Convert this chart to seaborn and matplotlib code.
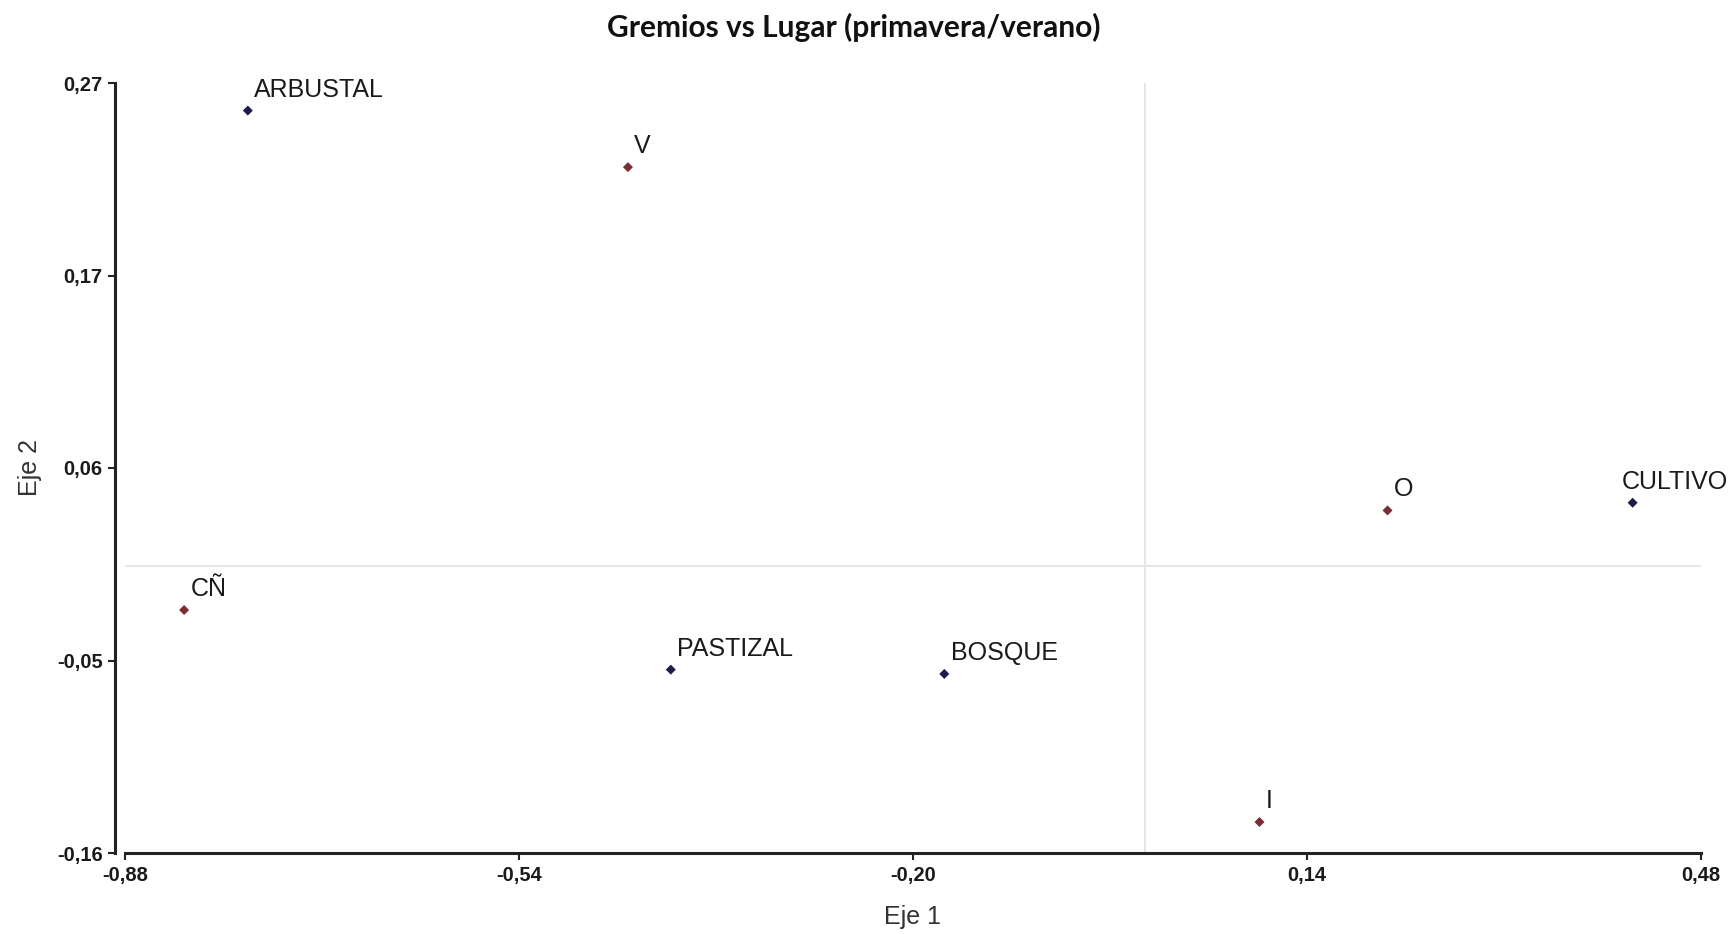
import numpy as np
import pandas as pd
import matplotlib
matplotlib.use("Agg")
import matplotlib.pyplot as plt
import seaborn as sns

# Correspondence analysis coordinates: sites (Lugar) and feeding guilds (Gremios)
lugar_names = ["ARBUSTAL", "PASTIZAL", "BOSQUE", "CULTIVO"]
lugar_eje1 = [-0.774, -0.409, -0.173, 0.421]
lugar_eje2 = [0.2546, -0.0576, -0.0600, 0.0356]

gremio_names = ["V", "CÑ", "I", "O"]
gremio_eje1 = [-0.446, -0.829, 0.099, 0.2095]
gremio_eje2 = [0.223, -0.0243, -0.1427, 0.0313]

x_ticklabels = ["-0,88", "-0,54", "-0,20", "0,14", "0,48"]
y_ticklabels = ["-0,16", "-0,05", "0,06", "0,17", "0,27"]
x_limits = (-0.88, 0.48)
y_limits = (-0.16, 0.27)

df = pd.DataFrame({
    "nombre": lugar_names + gremio_names,
    "Eje 1": lugar_eje1 + gremio_eje1,
    "Eje 2": lugar_eje2 + gremio_eje2,
    "tipo": ["Lugar"] * len(lugar_names) + ["Gremio"] * len(gremio_names),
})

sns.set_style("ticks")
plt.rcParams["font.family"] = ["Liberation Sans", "DejaVu Sans"]

W, H = 1732, 934
fig = plt.figure(figsize=(W / 100, H / 100), dpi=100)
ax = fig.add_axes([125 / W, 1 - 853 / H, (1701 - 125) / W, (853 - 83) / H])

# reference lines through the origin
ax.axvline(0, color="#e6e6e6", lw=1.4, zorder=0)
ax.axhline(0, color="#e6e6e6", lw=1.4, zorder=0)

sns.scatterplot(
    data=df, x="Eje 1", y="Eje 2", hue="tipo",
    palette={"Lugar": "#1c1c4e", "Gremio": "#7a2e34"},
    marker="D", s=26, edgecolor="none", legend=False, ax=ax, zorder=3,
)

# labels sit up-right of each point; the one near the right edge is pulled back
label_offset = {"CULTIVO": (-7.5, 6.5)}
for _, r in df.iterrows():
    ax.annotate(r["nombre"], (r["Eje 1"], r["Eje 2"]),
                xytext=label_offset.get(r["nombre"], (4.5, 6.5)),
                textcoords="offset points", ha="left", va="bottom",
                fontsize=18, color="#1a1a1a")

sns.despine(ax=ax)
ax.spines["left"].set_position(("outward", 7))
for sp in ("left", "bottom"):
    ax.spines[sp].set_linewidth(2.2)
    ax.spines[sp].set_color("#222222")

ax.set_xlim(*x_limits)
ax.set_ylim(*y_limits)
ax.set_xticks(np.linspace(*x_limits, len(x_ticklabels)))
ax.set_xticklabels(x_ticklabels, fontsize=14.5, fontweight="bold", color="#1a1a1a")
ax.set_yticks(np.linspace(*y_limits, len(y_ticklabels)))
ax.set_yticklabels(y_ticklabels, fontsize=14.5, fontweight="bold", color="#1a1a1a")
ax.tick_params(axis="both", length=5, width=1.5, color="#222222", pad=4)

ax.set_xlabel("Eje 1", fontsize=18, color="#333333", labelpad=15)
ax.set_ylabel("Eje 2", fontsize=18, color="#333333", labelpad=11)

fig.text(854 / W, 1 - 27 / H, "Gremios vs Lugar (primavera/verano)",
         ha="center", va="center", fontsize=21.5, fontweight="bold",
         family=["Lato", "DejaVu Sans"], color="#111111")

fig.savefig("out.png", dpi=100, facecolor="white")
